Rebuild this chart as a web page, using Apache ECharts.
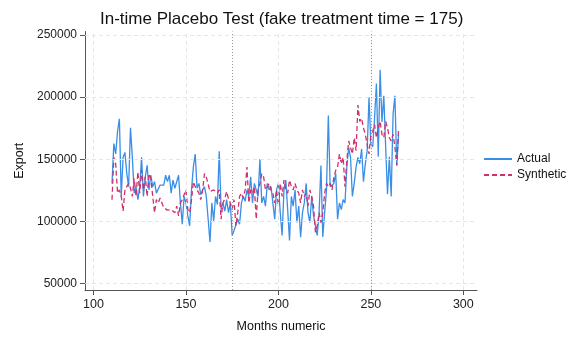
<!DOCTYPE html>
<html>
<head>
<meta charset="utf-8">
<script src="https://cdn.jsdelivr.net/npm/echarts@6/dist/echarts.min.js"></script>
<style>html,body{margin:0;padding:0;background:#fff}#c{width:575px;height:338px}</style>
</head>
<body>
<div id="c"></div>
<script>
const months = [110,111,112,113,114,115,116,117,118,119,
120,121,122,123,124,125,126,127,128,129,
130,131,132,133,134,135,136,137,138,139,
140,141,142,143,144,145,146,147,148,149,
150,151,152,153,154,155,156,157,158,159,
160,161,162,163,164,165,166,167,168,169,
170,171,172,173,174,175,176,177,178,179,
180,181,182,183,184,185,186,187,188,189,
190,191,192,193,194,195,196,197,198,199,
200,201,202,203,204,205,206,207,208,209,
210,211,212,213,214,215,216,217,218,219,
220,221,222,223,224,225,226,227,228,229,
230,231,232,233,234,235,236,237,238,239,
240,241,242,243,244,245,246,247,248,249,
250,251,252,253,254,255,256,257,258,259,
260,261,262,263,264,265];

const actual = [130500,162600,154200,172500,182500,120000,151500,155500,138400,127900,
175200,151500,122700,127900,117400,127900,151500,120000,135800,145000,
125300,137100,127900,131900,122700,122700,129200,127900,129200,137100,
131900,137100,122700,133200,126600,126600,137100,114800,97700,120000,
114800,104300,96400,125300,143700,154200,126600,130500,121400,125300,
127900,120000,118700,83300,114800,100400,120000,113500,156300,109500,
114800,108200,117400,106900,114800,88600,92500,93800,101700,97700,
114800,120000,116100,125300,120000,135800,114800,130500,125300,120000,
150200,114800,120000,112200,130500,125300,127900,114800,101700,125300,
130500,106900,88600,125300,133200,109500,84600,120000,112200,125300,
99000,112200,87200,106900,114800,130500,106900,99000,120000,104300,
96400,88600,106900,145000,87400,107000,125300,185200,127900,127900,
130500,138400,101700,114800,109500,117400,114800,143700,159400,151500,
120000,130500,143700,151500,146300,158100,131900,146300,156800,200100,
162000,160000,183000,211000,152000,222000,180000,201000,160000,122000,
152000,120000,186000,201000,145000,170000];

const synthetic = [117400,151500,146300,122700,125300,120000,108200,125300,127900,130500,
126600,120000,134500,120000,139700,122700,141000,125300,135800,120000,
138400,134500,135800,106900,117400,114800,118700,117400,110900,109500,
109000,108200,109500,108000,106900,112200,104300,114800,117400,116000,
125300,109500,106900,117400,131900,127900,126600,122700,117400,125000,
138400,135800,137100,124000,122700,125300,125300,122700,125300,101700,
114800,118000,124000,118000,114800,109500,117400,96400,106900,120000,
122700,118700,125300,143700,114800,125300,122700,127900,101700,125300,
130500,138400,135800,125300,127900,130500,125300,122700,114800,125300,
112200,130500,120000,133200,125300,122700,133200,127900,125300,130500,
125300,122700,114800,125300,120000,122700,112200,125300,120000,112200,
91200,96400,106900,99000,106900,122700,130500,127900,130500,125300,
135800,141000,143700,154200,146300,151500,127900,148900,164700,159400,
154200,167300,156800,193600,180400,183000,175200,169900,162000,154200,
169900,172500,177800,167300,175200,180400,169900,167300,180400,175200,
167300,164700,170000,160000,145000,175000];

const xTicks = [100,150,200,250,300];
const yTicks = [50000,100000,150000,200000,250000];
const refLines = [175,250];

const FONT = 'Liberation Sans, Arial, Helvetica, sans-serif';
const chart = echarts.init(document.getElementById('c'), null, {renderer:'canvas'});

const gridData = yTicks.map(v => ({yAxis: v})).concat(xTicks.map(v => ({xAxis: v})));
const refData = refLines.map(v => ({xAxis: v}));
const plain = v => String(v);

chart.setOption({
  animation: false,
  backgroundColor: '#ffffff',
  textStyle: {fontFamily: FONT},
  title: {
    text: 'In-time Placebo Test (fake treatment time = 175)',
    left: 95, top: 6,
    textStyle: {fontFamily: FONT, fontSize: 17, fontWeight: 'normal', color: '#111'}
  },
  grid: {left: 85, right: 98, top: 31.5, bottom: 43},
  legend: {
    data: ['Actual', 'Synthetic'],
    orient: 'vertical',
    left: 478, top: 148,
    itemWidth: 28, itemHeight: 10, itemGap: 4,
    itemStyle: {opacity: 0},
    textStyle: {fontFamily: FONT, fontSize: 12, color: '#111'}
  },
  xAxis: {
    type: 'value', min: 95.4, max: 307.4,
    name: 'Months numeric', nameLocation: 'middle', nameGap: 30,
    nameTextStyle: {fontFamily: FONT, fontSize: 12.5, color: '#111'},
    axisLine: {show: true, lineStyle: {color: '#555', width: 1}},
    axisTick: {show: true, length: 5, customValues: xTicks, lineStyle: {color: '#555'}},
    axisLabel: {customValues: xTicks, formatter: plain, margin: 8, fontSize: 12.5, color: '#222', fontFamily: FONT},
    splitLine: {show: false}
  },
  yAxis: {
    type: 'value', min: 44700, max: 252800,
    name: 'Export', nameLocation: 'middle', nameGap: 58, nameRotate: 90,
    nameTextStyle: {fontFamily: FONT, fontSize: 12.5, color: '#111'},
    axisLine: {show: true, lineStyle: {color: '#555', width: 1}},
    axisTick: {show: true, length: 5, customValues: yTicks, lineStyle: {color: '#555'}},
    axisLabel: {customValues: yTicks, formatter: plain, margin: 8, fontSize: 12, color: '#222', fontFamily: FONT},
    splitLine: {show: false}
  },
  series: [
    {
      name: 'grid', type: 'line', data: [], z: 1, silent: true,
      markLine: {
        silent: true, symbol: ['none', 'none'], label: {show: false},
        lineStyle: {color: '#e6e6e6', type: [4, 3], width: 1},
        data: gridData
      }
    },
    {
      name: 'ref', type: 'line', data: [], z: 2, silent: true,
      markLine: {
        silent: true, symbol: ['none', 'none'], label: {show: false},
        lineStyle: {color: '#9a9a9a', type: [1, 2], width: 1},
        data: refData
      }
    },
    {
      name: 'Actual', type: 'line', z: 3,
      data: months.map((m, i) => [m, actual[i]]),
      symbol: 'none', showSymbol: false,
      lineStyle: {color: '#3a8ee6', width: 1.3},
      itemStyle: {color: '#3a8ee6'}
    },
    {
      name: 'Synthetic', type: 'line', z: 4,
      data: months.map((m, i) => [m, synthetic[i]]),
      symbol: 'none', showSymbol: false,
      lineStyle: {color: '#d1306c', width: 1.3, type: [5, 3]},
      itemStyle: {color: '#d1306c'}
    }
  ]
});
</script>
</body>
</html>
